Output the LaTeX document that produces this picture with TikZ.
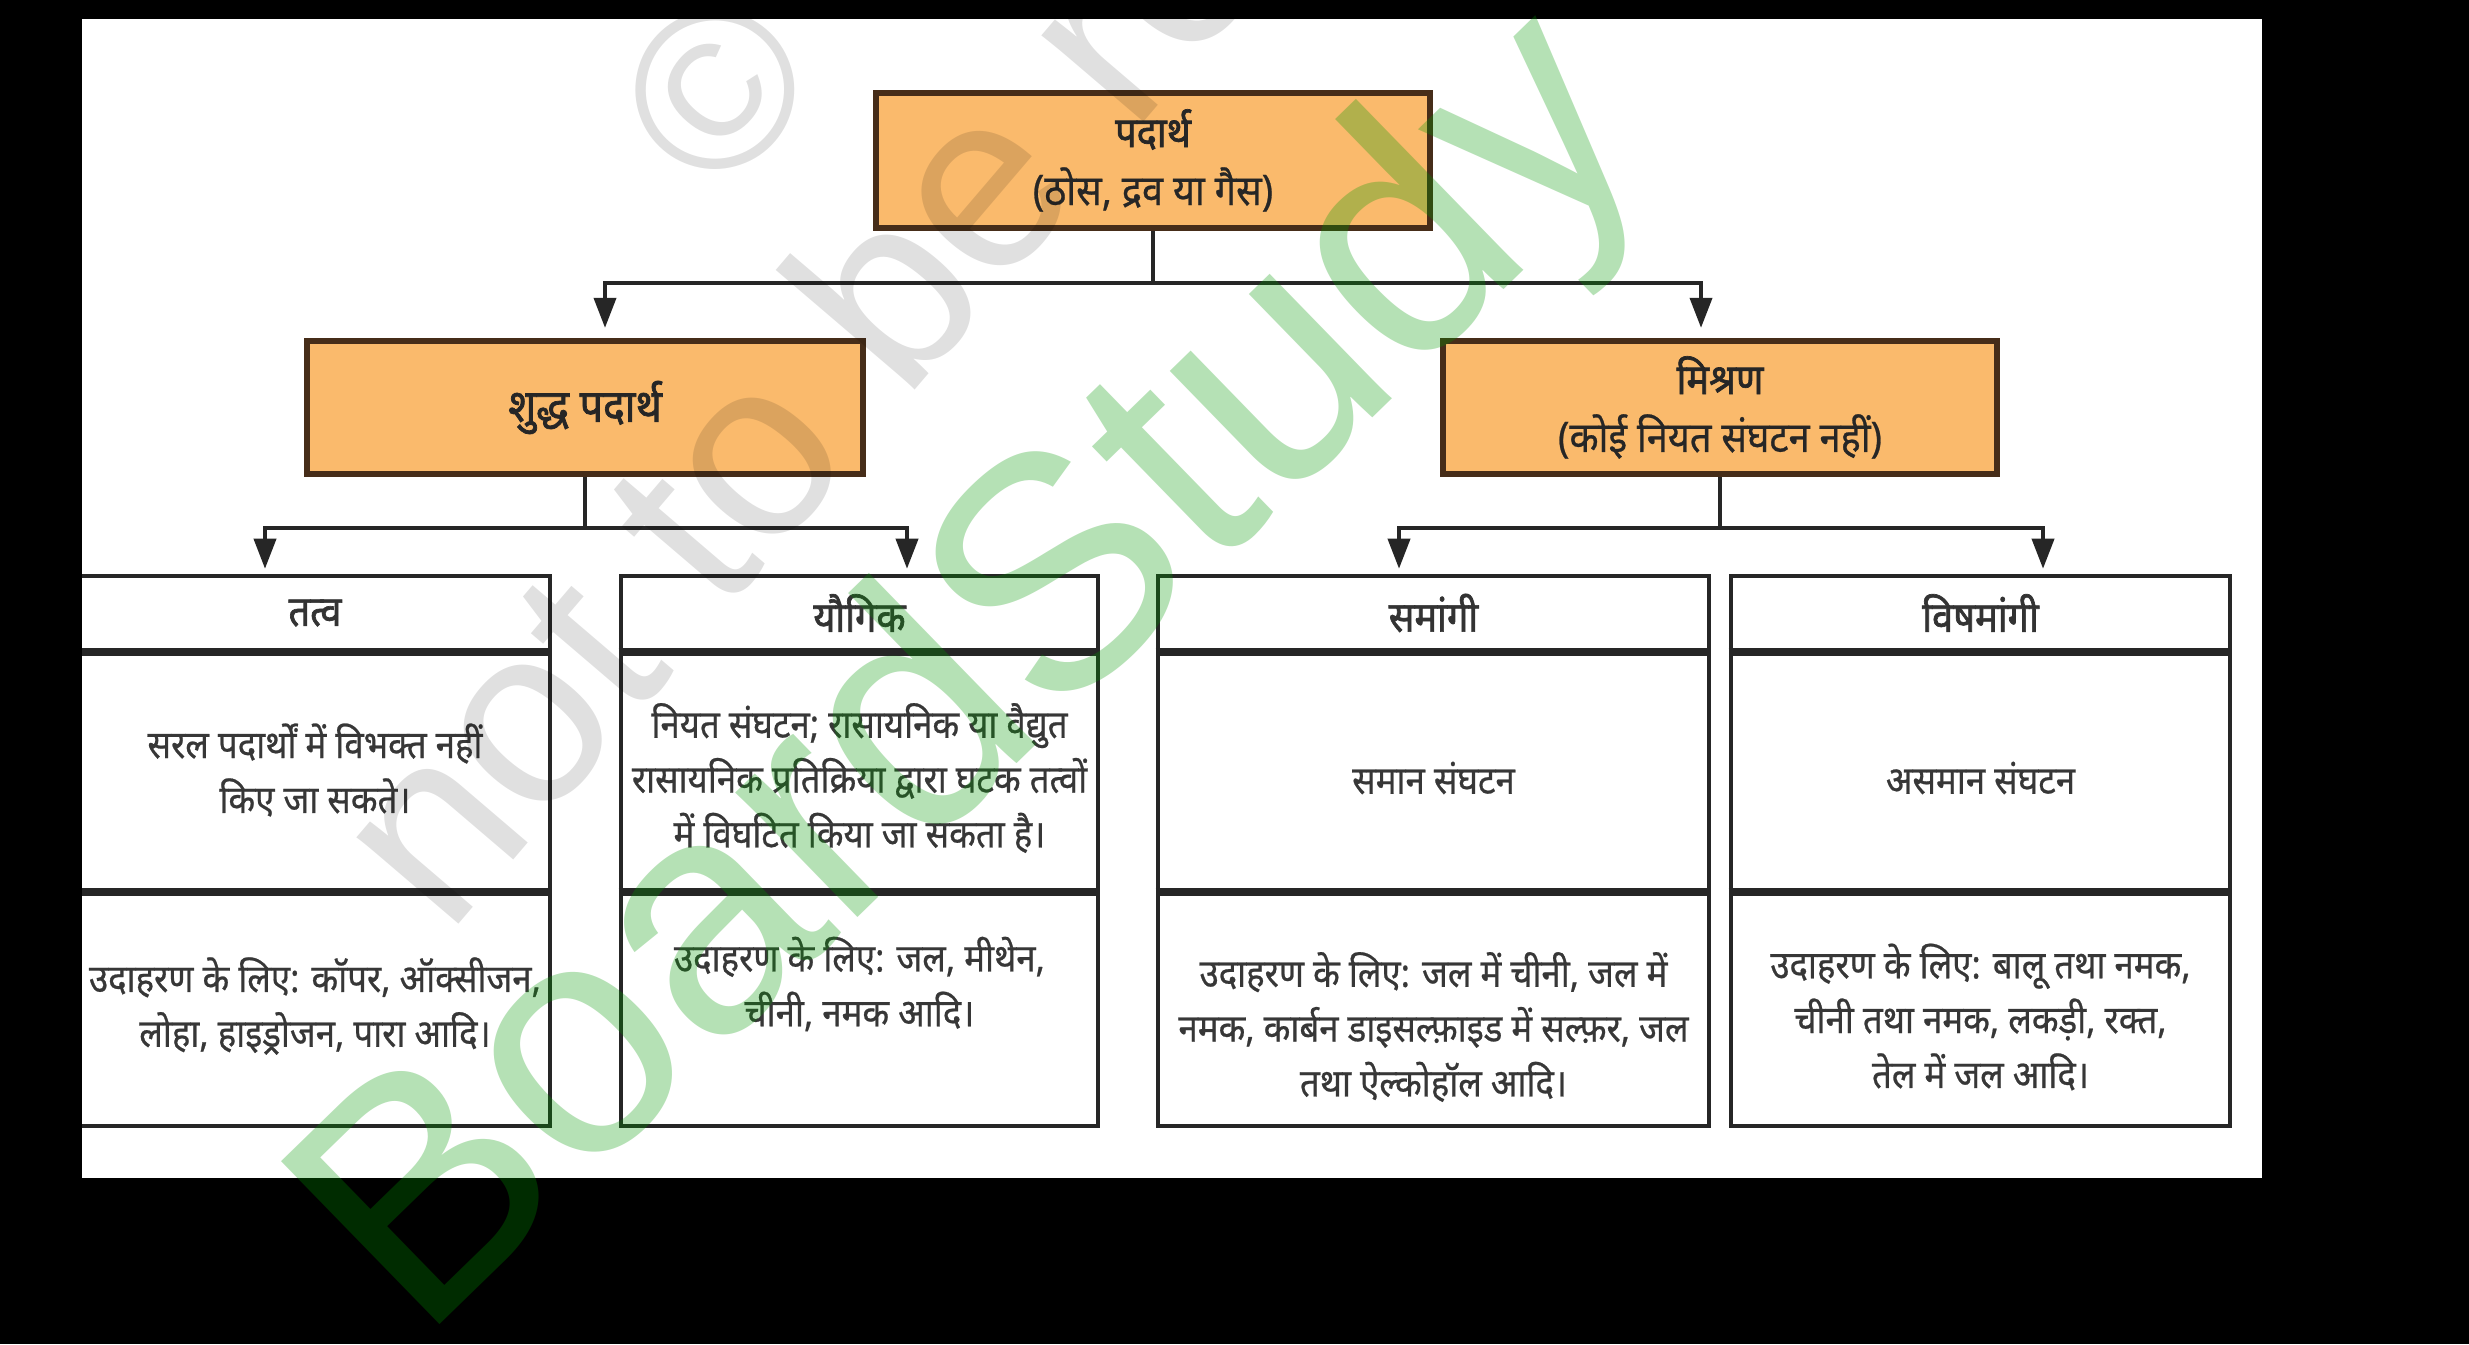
\documentclass[tikz,border=0pt]{standalone}
\usepackage{fontspec}
\usepackage{tikz}
\usetikzlibrary{arrows.meta}
\newfontfamily\hindi[Script=Devanagari, FakeStretch=0.9, FakeBold=0.6]{Noto Sans}
\newfontfamily\hindibf[Script=Devanagari, FakeStretch=0.9, FakeBold=1.6]{Noto Sans}
\newfontfamily\wmfont{Liberation Sans}
\definecolor{boxfill}{RGB}{250,186,108}
\definecolor{boxedge}{RGB}{70,45,25}
\definecolor{txtgray}{RGB}{55,55,55}
\definecolor{wmgreen}{RGB}{0,152,0}

\begin{document}
\begin{tikzpicture}[
    orangebox/.style={draw=boxedge, fill=boxfill, line width=1.8pt, align=center, minimum height=1.33cm, text=black!85, font=\hindi\fontsize{12}{16.5}\selectfont},
    cellbox/.style={draw=black!85, line width=1.3pt, inner sep=0pt},
    celltext/.style={align=center, inner sep=0pt, text=txtgray, font=\hindi\fontsize{11}{15.6}\selectfont},
    head/.style={cellbox, minimum height=0.74cm, text=black!80, font=\hindibf\fontsize{12}{15}\selectfont},
    body/.style={cellbox, minimum height=2.40cm},
    example/.style={cellbox, minimum height=2.36cm},
    divider/.style={line width=2.2pt, black!85},
    conn/.style={line width=1.1pt, black!85},
    arr/.style={conn, -{Triangle[length=0.3cm, width=0.22cm]}, shorten >=0.1cm},
    wmgray/.style={anchor=base, inner sep=0pt, text=black, text opacity=0.12, font=\wmfont\fontsize{72}{72}\selectfont}
]
    \fill[black] (0,0) rectangle (24.69,13.44);
    \useasboundingbox (0,0) rectangle (24.69,13.44);
    \begin{scope}
    \clip (0.82,1.66) rectangle (22.62,13.25);
    \fill[white] (0.82,1.66) rectangle (22.62,13.25);

    \node[orangebox, minimum width=5.54cm, minimum height=1.35cm] (matter) at (11.53,11.835) {{\hindibf पदार्थ}\\(ठोस, द्रव या गैस)};
    \node[orangebox, minimum width=5.56cm, font=\hindibf\fontsize{13}{16}\selectfont] (pure) at (5.85,9.365) {शुद्ध पदार्थ};
    \node[orangebox, minimum width=5.54cm] (mixture) at (17.20,9.365) {{\hindibf मिश्रण}\\(कोई नियत संघटन नहीं)};

    \node[head, minimum width=4.70cm] (tattvahead) at (3.15,7.31) {तत्व};
    \node[body, minimum width=4.70cm] (tattvabody) at (3.15,5.74) {};
    \node[example, minimum width=4.70cm] (tattvaex) at (3.15,3.36) {};
    \node[celltext] (tattvabodytext) at (tattvabody.center) {सरल पदार्थों में विभक्त नहीं\\किए जा सकते।};
    \node[celltext] (tattvaextext) at ([yshift=0.02cm]tattvaex.center) {उदाहरण के लिए: कॉपर, ऑक्सीजन,\\लोहा, हाइड्रोजन, पारा आदि।};

    \node[head, minimum width=4.77cm] (yaugikhead) at (8.595,7.31) {यौगिक};
    \node[body, minimum width=4.77cm] (yaugikbody) at (8.595,5.74) {};
    \node[example, minimum width=4.77cm] (yaugikex) at (8.595,3.36) {};
    \node[celltext] (yaugikbodytext) at ([yshift=-0.08cm]yaugikbody.center) {नियत संघटन; रासायनिक या वैद्युत\\रासायनिक प्रतिक्रिया द्वारा घटक तत्वों\\में विघटित किया जा सकता है।};
    \node[celltext] (yaugikextext) at ([yshift=0.24cm]yaugikex.center) {उदाहरण के लिए: जल, मीथेन,\\चीनी, नमक आदि।};

    \node[head, minimum width=5.51cm] (samangihead) at (14.335,7.31) {समांगी};
    \node[body, minimum width=5.51cm] (samangibody) at (14.335,5.74) {};
    \node[example, minimum width=5.51cm] (samangiex) at (14.335,3.36) {};
    \node[celltext] (samangibodytext) at ([yshift=-0.08cm]samangibody.center) {समान संघटन};
    \node[celltext] (samangiextext) at ([yshift=-0.19cm]samangiex.center) {उदाहरण के लिए: जल में चीनी, जल में\\नमक, कार्बन डाइसल्फ़ाइड में सल्फ़र, जल\\तथा ऐल्कोहॉल आदि।};

    \node[head, minimum width=4.99cm] (vishamangihead) at (19.805,7.31) {विषमांगी};
    \node[body, minimum width=4.99cm] (vishamangibody) at (19.805,5.74) {};
    \node[example, minimum width=4.99cm] (vishamangiex) at (19.805,3.36) {};
    \node[celltext] (vishamangibodytext) at ([yshift=-0.08cm]vishamangibody.center) {असमान संघटन};
    \node[celltext] (vishamangiextext) at ([yshift=-0.09cm]vishamangiex.center) {उदाहरण के लिए: बालू तथा नमक,\\चीनी तथा नमक, लकड़ी, रक्त,\\तेल में जल आदि।};

    \foreach \c in {tattva,yaugik,samangi,vishamangi} {
        \draw[divider] (\c head.south west) -- (\c head.south east);
        \draw[divider] (\c body.south west) -- (\c body.south east);
    }

    \draw[conn] (matter.south) -- ++(0,-0.52) coordinate (split);
    \draw[arr] (split) -| ([xshift=0.20cm]pure.north);
    \draw[arr] (split) -| ([xshift=-0.19cm]mixture.north);

    \draw[conn] (pure.south) -- ++(0,-0.51) coordinate (splitpure);
    \draw[arr, shorten >=0.05cm] (splitpure) -| ([xshift=-0.50cm]tattvahead.north);
    \draw[arr, shorten >=0.05cm] (splitpure) -| ([xshift=0.475cm]yaugikhead.north);

    \draw[conn] (mixture.south) -- ++(0,-0.51) coordinate (splitmix);
    \draw[arr, shorten >=0.05cm] (splitmix) -| ([xshift=-0.345cm]samangihead.north);
    \draw[arr, shorten >=0.05cm] (splitmix) -| ([xshift=0.625cm]vishamangihead.north);

    \node[wmgray, rotate=49.5, font=\wmfont\fontsize{64}{64}\selectfont] (ncert) at (10.45,15.20) {© NCERT};
    \node[wmgray, rotate=49.5] (republish) at (12.15,13.05) {not to be republished};
    \end{scope}

    \node[anchor=base west, inner sep=0pt, rotate=44.2, text=wmgreen, text opacity=0.29, font=\wmfont\fontsize{94}{94}\selectfont] (boardstudy) at (4.20,0) {BoardStudy};
\end{tikzpicture}
\end{document}
